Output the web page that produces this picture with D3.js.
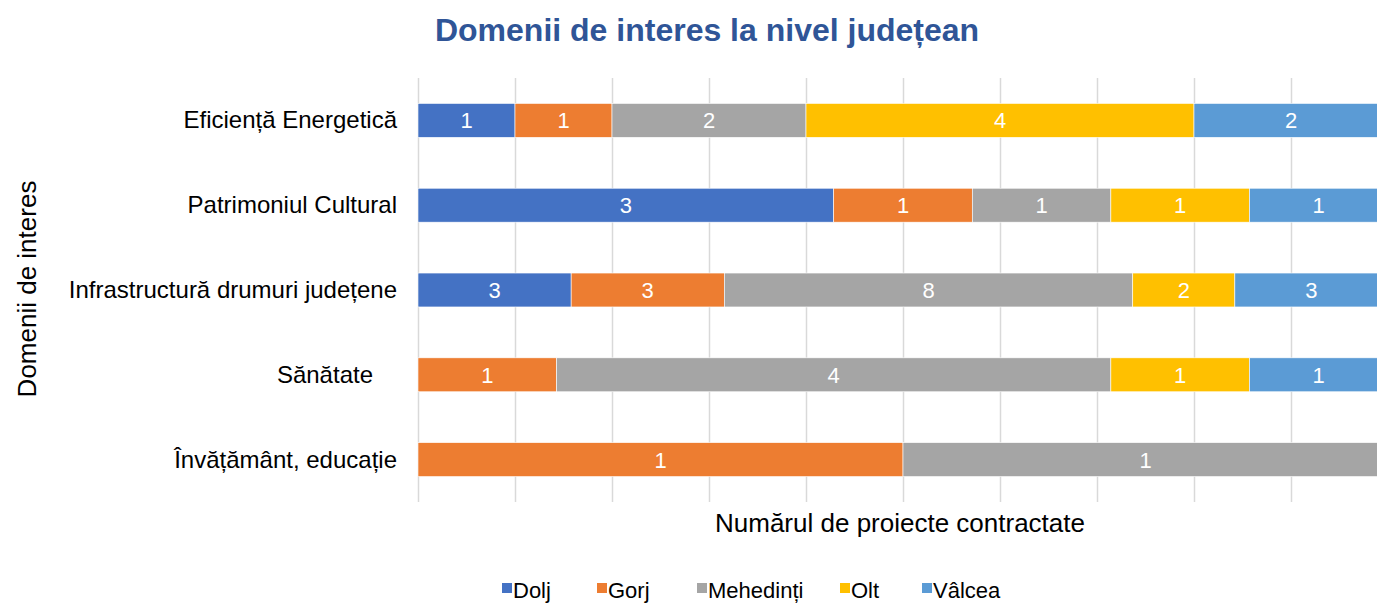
<!DOCTYPE html>
<html>
<head>
<meta charset="utf-8">
<script src="https://cdn.jsdelivr.net/npm/d3@7"></script>
<style>
  body { margin: 0; background: #fff; }
  text { font-family: "Liberation Sans", Arial, sans-serif; }
</style>
</head>
<body>
<script>
const width = 1377, height = 603;

const domains = ["Eficiență Energetică", "Patrimoniul Cultural", "Infrastructură drumuri județene", "Sănătate", "Învățământ, educație"];
const counties = ["Dolj", "Gorj", "Mehedinți", "Olt", "Vâlcea"];
const dolj = [1, 3, 3, 0, 0];
const gorj = [1, 1, 3, 1, 1];
const mehedinti = [2, 1, 8, 4, 1];
const olt = [4, 1, 2, 1, 0];
const valcea = [2, 1, 3, 1, 0];
const colors = ["#4472C4", "#ED7D31", "#A5A5A5", "#FFC000", "#5B9BD5"];
const xTicks = [0, 0.1, 0.2, 0.3, 0.4, 0.5, 0.6, 0.7, 0.8, 0.9, 1];

const series = [dolj, gorj, mehedinti, olt, valcea];
const rows = domains.map((d, i) => {
    const r = { domain: d };
    counties.forEach((c, j) => r[c] = series[j][i]);
    return r;
});

const margin = { top: 78, left: 418, bottom: 101 };
const plotW = 970;

const svg = d3.select('body').append('svg')
    .attr('width', width)
    .attr('height', height);

const x = d3.scaleLinear().domain([0, 1]).range([margin.left, margin.left + plotW]);
const y = d3.scaleBand().domain(domains)
    .range([margin.top, height - margin.bottom])
    .paddingInner(0.6).paddingOuter(0.3);

// grid lines
svg.append('g').selectAll('line')
    .data(xTicks)
    .join('line')
    .attr('x1', d => x(d) + 0.5)
    .attr('x2', d => x(d) + 0.5)
    .attr('y1', margin.top)
    .attr('y2', height - margin.bottom)
    .attr('stroke', '#D9D9D9')
    .attr('stroke-width', 1.5);

const stacked = d3.stack().keys(counties).offset(d3.stackOffsetExpand)(rows);

const layer = svg.append('g').selectAll('g')
    .data(stacked)
    .join('g')
    .attr('fill', (d, i) => colors[i]);

layer.selectAll('rect')
    .data(d => d)
    .join('rect')
    .attr('x', d => x(d[0]))
    .attr('width', d => x(d[1]) - x(d[0]))
    .attr('y', d => y(d.data.domain))
    .attr('height', y.bandwidth())
    .attr('stroke', '#fff')
    .attr('stroke-width', 0.6);

layer.selectAll('text')
    .data(function(d) { const key = d.key; return d.map(v => ({ v, key })); })
    .join('text')
    .filter(d => d.v.data[d.key] > 0)
    .attr('x', d => (x(d.v[0]) + x(d.v[1])) / 2)
    .attr('y', d => y(d.v.data.domain) + y.bandwidth() / 2 + 8)
    .attr('text-anchor', 'middle')
    .attr('fill', '#fff')
    .attr('font-size', 22)
    .text(d => d.v.data[d.key]);

// category labels
svg.append('g').selectAll('text')
    .data(domains)
    .join('text')
    .attr('x', d => d === "Sănătate" ? 373 : 397)
    .attr('y', d => y(d) + y.bandwidth() / 2 + 8)
    .attr('text-anchor', 'end')
    .attr('font-size', 24)
    .attr('fill', '#000')
    .text(d => d);

// title
svg.append('text')
    .attr('x', 707)
    .attr('y', 41)
    .attr('text-anchor', 'middle')
    .attr('font-size', 32)
    .attr('font-weight', 'bold')
    .attr('fill', '#2F5597')
    .text('Domenii de interes la nivel județean');

// axis titles
svg.append('text')
    .attr('transform', 'translate(36,289) rotate(-90)')
    .attr('text-anchor', 'middle')
    .attr('font-size', 26)
    .text('Domenii de interes');

svg.append('text')
    .attr('x', 900)
    .attr('y', 532)
    .attr('text-anchor', 'middle')
    .attr('font-size', 26)
    .text('Numărul de proiecte contractate');

// legend
const legendX = [502, 597, 697, 840, 922];
const legend = svg.append('g').selectAll('g')
    .data(counties)
    .join('g')
    .attr('transform', (d, i) => `translate(${legendX[i]},598)`);
legend.append('rect')
    .attr('x', 0).attr('y', -15)
    .attr('width', 10).attr('height', 10)
    .attr('fill', (d, i) => colors[i]);
legend.append('text')
    .attr('x', 11).attr('y', 0)
    .attr('font-size', 22)
    .text(d => d);
</script>
</body>
</html>
